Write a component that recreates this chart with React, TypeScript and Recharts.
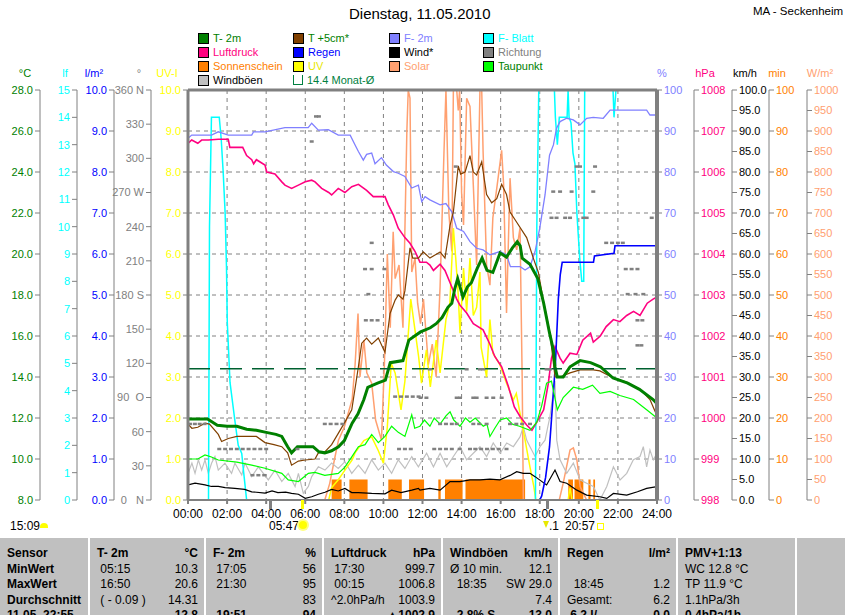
import React from "react";
import {
  ComposedChart,
  Line,
  Area,
  Scatter,
  XAxis,
  YAxis,
  CartesianGrid,
  ReferenceLine,
} from "recharts";

const FONT = '"Liberation Sans", Arial, sans-serif';

// ---- data (hour of day, value) ----
const T2M = [
  [0, 11.95], [0.5, 11.95], [1, 11.95], [1.5, 11.65], [2, 11.6], [2.5, 11.6], [3, 11.45], [3.5, 11.4],
  [4, 11.3], [4.5, 11.2], [4.8, 11.1], [5.1, 10.6], [5.3, 10.3], [5.6, 10.6], [6, 10.6], [6.4, 10.6],
  [6.7, 10.35], [7, 10.3], [7.35, 10.4], [7.7, 10.6], [8, 10.9], [8.4, 11.75], [8.7, 12.2], [9.0, 12.9],
  [9.2, 13.5], [9.7, 13.7], [10.1, 13.85], [10.35, 14.7], [11.0, 14.8], [11.3, 15.8], [11.9, 16.2],
  [12.4, 16.4], [12.7, 16.6], [13.0, 16.9], [13.3, 17.4], [13.5, 17.6], [13.65, 18.3], [13.8, 18.8],
  [14.07, 17.9], [14.3, 18.4], [14.5, 18.6], [14.8, 19.3], [15.05, 19.8], [15.3, 19.2], [15.6, 19.1],
  [15.97, 20.05], [16.3, 19.85], [16.6, 20.3], [16.85, 20.6], [17.0, 20.4], [17.1, 19.8], [17.5, 19.5],
  [17.9, 18.8], [18.2, 17.6], [18.5, 16.15], [18.7, 15.3], [18.78, 14.5], [18.9, 14.0], [19.2, 14.0],
  [19.55, 14.5], [20.06, 14.8], [20.6, 14.7], [21.1, 14.5], [21.75, 13.95], [22.5, 13.7], [23.1, 13.4],
  [23.8, 12.9], [24, 12.7],
];

const T5CM = [
  [0, 11.7], [0.2, 11.5], [0.5, 11.55], [0.87, 11.75], [1.1, 11.7], [1.55, 11.2], [1.72, 10.85],
  [2.06, 11.0], [2.5, 11.1], [3.5, 11.1], [3.94, 10.8], [4.4, 10.7], [4.8, 10.6], [5.1, 10.3], [5.3, 9.7],
  [5.65, 9.9], [6.0, 9.95], [6.5, 10.0], [6.67, 10.3], [7.0, 10.35], [7.35, 10.7], [7.69, 11.25],
  [8.03, 11.8], [8.38, 12.4], [8.72, 14.5], [8.89, 15.65], [9.14, 15.9], [9.4, 15.6], [9.74, 15.9],
  [10.08, 15.2], [10.34, 17.1], [10.6, 17.75], [10.76, 18.0], [11.0, 17.8], [11.1, 18.2], [11.36, 20.3],
  [11.5, 19.8], [11.79, 19.8], [12.04, 20.1], [12.38, 19.8], [12.9, 20.1], [13.15, 19.8], [13.41, 21.4],
  [13.58, 22.05], [13.83, 24.3], [13.95, 23.9], [14.18, 24.0], [14.43, 24.8], [14.6, 24.0], [14.77, 23.85],
  [15.03, 24.5], [15.28, 22.9], [15.54, 22.5], [15.8, 22.7], [16.05, 23.4], [16.3, 22.9], [16.48, 22.05],
  [16.82, 21.55], [17.33, 20.8], [17.67, 19.8], [17.93, 19.1], [18.18, 17.75], [18.52, 16.15],
  [18.78, 14.0], [19.04, 14.0], [19.55, 14.2], [20.06, 14.35], [20.74, 14.35], [21.08, 14.3],
  [21.77, 13.95], [22.45, 13.75], [23.13, 13.4], [23.64, 12.9], [23.98, 12.15],
];

const DEWPOINT = [
  [0, 10.0], [0.5, 10.0], [0.87, 10.2], [1.2, 10.1], [1.55, 9.95], [2.5, 9.85], [3.26, 9.7], [3.94, 9.55],
  [4.8, 9.3], [5.13, 8.98], [5.65, 8.9], [6.16, 9.3], [6.5, 9.35], [7.0, 9.2], [7.69, 9.3], [8.03, 9.6],
  [8.38, 10.1], [8.72, 10.6], [9.06, 10.7], [9.4, 11.2], [9.74, 10.8], [10.08, 11.1], [10.42, 11.6],
  [10.76, 11.3], [11.1, 11.1], [11.45, 12.15], [11.6, 11.5], [11.87, 11.6], [12.1, 11.9], [12.38, 11.6],
  [12.6, 12.0], [12.9, 11.7], [13.2, 12.1], [13.41, 12.3], [13.6, 11.9], [13.92, 11.6], [14.2, 12.0],
  [14.43, 11.8], [14.7, 12.0], [15.11, 11.6], [15.3, 11.7], [15.45, 11.1], [15.7, 11.5], [15.97, 11.9],
  [16.31, 12.0], [16.6, 11.7], [16.96, 11.6], [17.5, 11.4], [17.85, 11.8], [18.1, 12.6], [18.35, 13.7],
  [18.6, 13.8], [18.9, 12.4], [19.2, 13.0], [19.72, 13.5], [20.2, 13.4], [20.7, 13.6], [21.08, 13.2],
  [21.6, 13.3], [22.1, 13.1], [22.8, 12.9], [23.47, 12.4], [24, 12.0],
];

const HUMIDITY = [
  [0, 88.2], [0.19, 89], [1.2, 89], [1.55, 89.8], [2.06, 89], [3.26, 89], [3.35, 89.8], [3.94, 89.8],
  [4.96, 90.8], [6.15, 90.8], [6.33, 91.9], [6.67, 90.2], [7.18, 90.3], [7.69, 89], [8.3, 89],
  [8.55, 86.6], [8.72, 85], [8.97, 82.9], [9.14, 84.3], [9.4, 84.6], [9.57, 82], [9.9, 83.5],
  [10.15, 81.7], [10.51, 80.1], [10.76, 79.7], [11.1, 78.9], [11.45, 76.1], [11.79, 76.8], [11.96, 72.8],
  [12.13, 74], [12.38, 73.2], [12.9, 72], [13.2, 72.3], [13.5, 70.3], [13.75, 66.3], [14.1, 65.5],
  [14.43, 63.0], [14.77, 61.4], [15.1, 61.0], [15.45, 59.8], [15.96, 60.6], [16.3, 59.8], [16.5, 56.9],
  [17.0, 56.9], [17.25, 56.1], [17.5, 56.9], [17.76, 60.6], [18.0, 66.3], [18.27, 74.4], [18.5, 84.1],
  [18.7, 86.6], [18.86, 90.7], [19.04, 92.3], [19.38, 93.1], [19.72, 92.7], [20.06, 91.5], [20.4, 93.1],
  [20.74, 93.3], [21.25, 93.1], [21.6, 95.1], [23.47, 95.1], [23.64, 93.9], [24, 93.9],
];

const PRESSURE = [
  [0, 1006.7], [0.19, 1006.78], [0.5, 1006.7], [0.7, 1006.78], [1.04, 1006.78], [1.55, 1006.8],
  [2.06, 1006.8], [2.14, 1006.6], [2.8, 1006.6], [3.0, 1006.4], [3.26, 1006.3], [3.36, 1006.2],
  [3.5, 1006.3], [3.94, 1006.17], [4.03, 1006.0], [4.45, 1005.95], [4.8, 1005.76], [4.96, 1005.68],
  [5.3, 1005.6], [5.65, 1005.68], [6.0, 1005.76], [6.33, 1005.8], [6.5, 1005.76], [6.84, 1005.6],
  [7.2, 1005.5], [7.35, 1005.44], [7.69, 1005.6], [8.03, 1005.5], [8.38, 1005.64], [8.72, 1005.7],
  [9.14, 1005.55], [9.48, 1005.4], [10.08, 1005.4], [10.25, 1005.2], [10.51, 1004.95], [10.76, 1004.63],
  [11.1, 1004.4], [11.36, 1004.26], [11.62, 1004.06], [11.87, 1003.8], [12.2, 1003.8], [12.38, 1003.73],
  [12.56, 1003.6], [12.9, 1003.75], [13.15, 1003.6], [13.41, 1003.3], [13.58, 1003.1], [13.75, 1002.9],
  [13.92, 1002.75], [14.26, 1002.56], [14.6, 1002.3], [15.1, 1002.15], [15.45, 1001.8], [15.7, 1001.5],
  [16.05, 1001.25], [16.4, 1000.76], [16.7, 1000.27], [17.0, 1000.03], [17.33, 999.83], [17.6, 999.7],
  [17.85, 999.9], [18.2, 1000.2], [18.44, 1000.85], [18.6, 1001.46], [18.78, 1001.74], [19.04, 1001.46],
  [19.2, 1001.34], [19.55, 1001.58], [19.9, 1001.55], [20.2, 1001.9], [20.6, 1002.07], [20.74, 1001.85],
  [21.1, 1002.0], [21.4, 1002.23], [21.77, 1002.4], [22.1, 1002.35], [22.45, 1002.5], [22.8, 1002.6],
  [23.13, 1002.5], [23.5, 1002.8], [23.8, 1002.9], [24, 1002.95],
];

const RAIN = [
  [0, 0], [18.0, 0], [18.1, 0.1], [18.3, 0.55], [18.5, 1.3], [18.65, 2.3], [18.8, 3.3], [18.95, 4.9],
  [19.05, 5.5], [19.15, 5.8], [20.75, 5.8], [20.8, 5.95], [21.8, 6.02], [21.85, 6.2], [24, 6.2],
];

const LEAF_WETNESS = [
  [0, 0], [1.05, 0], [1.1, 10], [1.2, 14], [1.6, 14], [1.7, 13.2], [1.8, 12], [1.9, 10.5], [1.97, 8.5],
  [2.01, 6.5], [2.15, 4.3], [2.4, 2.9], [2.57, 2.0], [2.75, 1.7], [2.85, 1.0], [3.0, 0], [17.78, 0],
  [17.85, 10], [17.95, 15], [18.75, 15], [18.8, 14], [18.9, 13], [19.0, 14], [19.4, 14], [19.45, 15],
  [19.5, 14], [19.6, 13.8], [19.7, 12.7], [19.8, 12.3], [19.9, 10.5], [20.05, 8.8], [20.15, 8],
  [20.25, 8], [20.3, 15], [21.75, 15], [21.8, 14], [21.9, 15], [24, 15],
];

const SOLAR = [
  [0, 0], [7.0, 0], [7.25, 40], [7.5, 100], [7.7, 146], [8.0, 178], [8.25, 220], [8.4, 245], [8.55, 330],
  [8.7, 455], [8.8, 300], [9.0, 390], [9.15, 310], [9.4, 285], [9.6, 195], [9.9, 146], [10.05, 330],
  [10.2, 600], [10.35, 420], [10.5, 654], [10.6, 540], [10.8, 573], [11.0, 420], [11.2, 900],
  [11.27, 1000], [11.36, 980], [11.45, 556], [11.62, 590], [11.75, 480], [11.9, 430], [12.05, 490],
  [12.3, 330], [12.5, 380], [12.7, 300], [12.9, 520], [13.1, 850], [13.2, 1000], [13.35, 700],
  [13.5, 606], [13.58, 1000], [13.75, 1000], [13.83, 950], [13.9, 1000], [14.0, 750], [14.1, 671],
  [14.26, 980], [14.43, 960], [14.6, 768], [14.77, 573], [14.94, 1000], [15.03, 1000], [15.1, 851],
  [15.28, 573], [15.45, 524], [15.6, 688], [15.8, 760], [16.05, 853], [16.15, 770], [16.3, 456],
  [16.48, 785], [16.65, 640], [16.82, 610], [16.99, 663], [17.1, 300], [17.16, 0], [19.0, 0],
  [19.2, 41], [19.55, 122], [19.72, 127], [19.9, 98], [20.07, 32], [20.4, 0], [24, 0],
];

const UV_INDEX = [
  [0, 0], [7.2, 0], [7.35, 0.3], [7.7, 0.5], [8.03, 0.73], [8.4, 0.98], [8.55, 1.15], [9.0, 1.45],
  [9.4, 1.54], [9.74, 1.2], [10.0, 0.9], [10.2, 1.78], [10.4, 3.33], [10.6, 3.1], [10.9, 2.2], [11.1, 2.9],
  [11.4, 4.9], [11.6, 4.2], [11.8, 3.5], [11.95, 2.85], [12.2, 3.66], [12.4, 2.76], [12.7, 3.9],
  [12.9, 3.1], [13.2, 4.4], [13.4, 4.8], [13.58, 6.63], [13.7, 5.9], [13.83, 5.0], [13.92, 4.07],
  [14.1, 5.66], [14.26, 4.6], [14.43, 5.9], [14.6, 4.5], [14.77, 4.7], [14.94, 5.56], [15.0, 3.73],
  [15.28, 3.0], [15.45, 4.4], [15.6, 3.58], [15.96, 3.3], [16.3, 2.85], [16.65, 2.44], [16.8, 2.6],
  [16.99, 2.12], [17.25, 1.46], [17.5, 0.8], [17.7, 0.32], [17.8, 0], [19.45, 0], [19.55, 0.3],
  [19.65, 0], [24, 0],
];

const WIND = [
  [0, 3.7], [0.36, 4.1], [0.87, 3.7], [1.2, 3.3], [1.55, 3.3], [1.9, 3.0], [2.4, 2.85], [2.9, 2.6],
  [3.26, 2.0], [3.94, 1.7], [4.3, 2.2], [4.6, 1.8], [5.0, 1.9], [5.3, 1.6], [5.65, 1.4], [6.0, 0.4],
  [6.33, 0.8], [6.67, 1.4], [7.01, 1.9], [7.35, 2.6], [7.69, 2.2], [8.03, 2.8], [8.38, 1.8], [8.72, 1.8],
  [9.4, 1.6], [10.08, 1.5], [10.42, 2.4], [10.9, 1.8], [11.45, 2.4], [11.79, 2.85], [11.87, 2.4],
  [12.38, 2.85], [12.9, 2.4], [13.41, 4.5], [13.92, 4.5], [14.43, 4.9], [14.94, 4.9], [15.45, 5.1],
  [15.96, 4.9], [16.48, 6.0], [16.82, 6.9], [17.16, 6.5], [17.5, 6.5], [17.76, 5.7], [18.35, 3.66],
  [18.78, 7.3], [19.04, 4.5], [19.38, 4.1], [19.9, 2.4], [20.4, 1.2], [21.08, 0.8], [21.43, 0.4],
  [21.77, 1.6], [22.45, 1.2], [23.0, 2.0], [23.47, 2.85], [24, 3.25],
];

const GUSTS = [
  [0, 6.5], [0.2, 9.0], [0.36, 6.5], [0.53, 9.8], [0.7, 7.3], [0.87, 9.8], [1.04, 6.5], [1.21, 9.0],
  [1.38, 10.6], [1.55, 7.3], [1.89, 9.0], [2.23, 6.5], [2.4, 9.0], [2.75, 6.1], [2.92, 9.0], [3.26, 5.7],
  [3.6, 8.1], [4.11, 4.9], [4.45, 7.3], [4.8, 4.5], [5.13, 6.5], [5.48, 3.3], [5.65, 6.5], [5.9, 1.6],
  [6.16, 3.3], [6.33, 5.7], [6.67, 8.1], [7.01, 7.3], [7.35, 9.0], [7.69, 7.7], [8.03, 9.35], [8.38, 6.5],
  [8.72, 8.5], [9.06, 6.5], [9.4, 9.8], [9.74, 7.3], [10.08, 9.0], [10.42, 6.5], [10.76, 9.8], [11.1, 7.7],
  [11.45, 10.6], [11.79, 8.1], [12.0, 9.8], [12.21, 11.4], [12.56, 8.1], [12.9, 11.4], [13.24, 8.1],
  [13.58, 10.6], [13.92, 13.0], [14.26, 9.8], [14.6, 11.4], [14.94, 13.0], [15.28, 10.6], [15.62, 13.9],
  [15.97, 11.4], [16.31, 13.9], [16.65, 13.0], [16.99, 15.4], [17.16, 17.9], [17.33, 14.6], [17.5, 13.0],
  [17.76, 10.6], [18.01, 13.0], [18.27, 14.6], [18.52, 20.3], [18.69, 26.1], [18.78, 29.0], [18.87, 14.6],
  [19.04, 9.8], [19.38, 6.5], [19.72, 9.0], [20.06, 4.9], [20.4, 4.1], [20.74, 3.3], [21.08, 0],
  [21.43, 3.3], [21.77, 8.1], [22.11, 4.9], [22.45, 6.5], [22.79, 9.8], [23.13, 10.6], [23.3, 13.0],
  [23.47, 8.1], [23.64, 12.2], [23.81, 9.8], [24, 11.4],
];

// wind direction samples, degrees
const DIRECTION = [
  [0.1, 67], [0.35, 67], [0.6, 67], [0.85, 67],
  [1.6, 45], [1.9, 45], [2.2, 45], [2.5, 45], [2.8, 45], [3.1, 45], [3.4, 45], [3.7, 45], [4.0, 45],
  [3.3, 22], [3.6, 22], [3.9, 22], [5.6, 45],
  [6.33, 315], [6.55, 337], [6.7, 337],
  [7.0, 67], [7.3, 67], [7.6, 67], [7.9, 67],
  [9.1, 158], [9.4, 158], [9.7, 158], [9.23, 181], [9.06, 203], [9.4, 203], [10.05, 203], [9.4, 226],
  [10.6, 91], [10.9, 91], [11.2, 91], [11.5, 91], [11.8, 91], [10.8, 45], [11.1, 45], [11.4, 45],
  [11.9, 90], [12.2, 90], [12.38, 115], [12.6, 45], [12.9, 45], [13.2, 45], [13.5, 45], [13.9, 45],
  [12.9, 67], [13.2, 67], [13.5, 67], [13.75, 67], [13.7, 293], [13.75, 90], [13.92, 90],
  [14.26, 115], [14.43, 45], [14.7, 45], [15.0, 45], [15.3, 45], [15.6, 45], [15.9, 45], [16.3, 45],
  [14.6, 67], [14.9, 67], [15.28, 67], [14.6, 90], [14.77, 90], [14.94, 115], [15.11, 115],
  [15.28, 90], [15.62, 90], [16.05, 90], [16.48, 67], [16.8, 67], [17.1, 67], [17.5, 67],
  [18.35, 115], [18.52, 115], [18.6, 248], [18.86, 248], [18.69, 271], [19.04, 271],
  [19.3, 248], [19.55, 248], [19.63, 271], [19.89, 293], [20.06, 293], [20.23, 248], [20.4, 248],
  [20.74, 271], [20.83, 293], [21.4, 226], [21.7, 226], [22.0, 226], [22.25, 226],
  [22.4, 203], [22.7, 203], [23.0, 203], [22.5, 181], [22.9, 181], [23.3, 181],
  [23.0, 158], [23.25, 158], [23.0, 136], [23.2, 136], [23.73, 248],
];

// sunshine: 5-minute slots with full sun, as [from, to] hours
const SUN_INTERVALS = [
  [7.35, 7.86], [8.26, 9.19], [10.25, 10.94], [11.31, 12.08], [12.81, 12.93], [13.15, 14.05],
  [14.2, 17.25], [19.46, 19.7], [19.78, 20.23], [20.49, 20.6], [20.74, 20.83],
];
const SUN_MINUTES = 5;
const MONTH_AVG = 14.4;

const HOUR_TICKS = [0, 2, 4, 6, 8, 10, 12, 14, 16, 18, 20, 22, 24];

const toPoints = (pairs: number[][]) => pairs.map(([h, v]) => ({ h, v }));

const sunData = [
  { h: 0, v: 0 },
  ...SUN_INTERVALS.flatMap(([a, b]) => [
    { h: a, v: 0 },
    { h: a, v: SUN_MINUTES },
    { h: b, v: SUN_MINUTES },
    { h: b, v: 0 },
  ]),
  { h: 24, v: 0 },
];

const range = (from: number, to: number, step: number) => {
  const out: number[] = [];
  for (let v = from; v <= to + 1e-9; v += step) out.push(Math.round(v * 100) / 100);
  return out;
};

const GRAY = "#808080";

const tickStyle = (fill: string) => ({ fill, fontSize: 11, fontFamily: FONT });

const DIR_LABELS: Record<number, string> = {
  0: "0\u00a0\u00a0\u00a0N",
  90: "90\u00a0\u00a0O",
  180: "180\u00a0S",
  270: "270\u00a0W",
  360: "360\u00a0N",
};

const LEGEND = [
  { col: 0, row: 0, label: "T- 2m", box: "#008000", color: "#008000" },
  { col: 0, row: 1, label: "Luftdruck", box: "#ff0080", color: "#ff0080" },
  { col: 0, row: 2, label: "Sonnenschein", box: "#ff8000", color: "#ff8000" },
  { col: 0, row: 3, label: "Windböen", box: "#c0c0c0", color: "#000000" },
  { col: 1, row: 0, label: "T +5cm*", box: "#804000", color: "#008000" },
  { col: 1, row: 1, label: "Regen", box: "#0000ff", color: "#0000ff" },
  { col: 1, row: 2, label: "UV", box: "#ffff00", color: "#e8e800" },
  { col: 1, row: 3, label: "14.4 Monat-Ø", box: "none", color: "#008040" },
  { col: 2, row: 0, label: "F- 2m", box: "#8080ff", color: "#8080ff" },
  { col: 2, row: 1, label: "Wind*", box: "#000000", color: "#000000" },
  { col: 2, row: 2, label: "Solar", box: "#ffa070", color: "#ffa070" },
  { col: 3, row: 0, label: "F- Blatt", box: "#00ffff", color: "#00ffff" },
  { col: 3, row: 1, label: "Richtung", box: "#808080", color: "#808080" },
  { col: 3, row: 2, label: "Taupunkt", box: "#00ff00", color: "#008000" },
];
const LEGEND_X = [198, 293, 389, 483];

const UNITS = [
  { x: 25, text: "°C", color: "#008000" },
  { x: 65, text: "lf", color: "#00ffff" },
  { x: 94, text: "l/m²", color: "#0000ff" },
  { x: 139, text: "°", color: "#808080" },
  { x: 167, text: "UV-I", color: "#ffff00" },
  { x: 662, text: "%", color: "#8080ff" },
  { x: 705, text: "hPa", color: "#ff0080" },
  { x: 745, text: "km/h", color: "#000000" },
  { x: 777, text: "min", color: "#ff8000" },
  { x: 820, text: "W/m²", color: "#ffa070" },
];

// summary table: [left text, right text] per cell, first row is header
const TABLE = [
  { x: 0, w: 88, rows: [["Sensor", ""], ["MinWert", ""], ["MaxWert", ""], ["Durchschnitt", ""], ["11.05. 22:55", ""]], boldLeft: true },
  { x: 88, w: 116, rows: [["T- 2m", "°C"], [" 05:15", "10.3"], [" 16:50", "20.6"], [" ( - 0.09 )", "14.31"], ["", "12.8"]] },
  { x: 204, w: 118, rows: [["F- 2m", "%"], [" 17:05", "56"], [" 21:30", "95"], ["", "83"], [" 19:51 ...", "94"]] },
  { x: 322, w: 119, rows: [["Luftdruck", "hPa"], [" 17:30", "999.7"], [" 00:15", "1006.8"], ["^2.0hPa/h", "1003.9"], ["  ...", "▲1002.9"]] },
  { x: 441, w: 117, rows: [["Windböen", "km/h"], ["Ø 10 min.", "12.1"], ["  18:35", "SW 29.0"], ["", "7.4"], ["  2.8% S", "13.0"]] },
  { x: 558, w: 118, rows: [["Regen", "l/m²"], ["", ""], ["  18:45", "1.2"], ["Gesamt:", "6.2"], [" 6.2 l/...", "0.0"]] },
  { x: 676, w: 119, rows: [["PMV+1:13", ""], ["WC 12.8 °C", ""], ["TP 11.9 °C", ""], ["1.1hPa/3h", ""], ["0.4hPa/1h", ""]] },
  { x: 795, w: 50, rows: [["", ""]] },
];

function LegendBlock() {
  return (
    <>
      {LEGEND.map((it) => (
        <div
          key={it.label}
          style={{
            position: "absolute",
            left: LEGEND_X[it.col],
            top: 31 + it.row * 14,
            height: 14,
            display: "flex",
            alignItems: "center",
            fontSize: 11,
            color: it.color,
            whiteSpace: "nowrap",
          }}
        >
          {it.box === "none" ? (
            <span
              style={{
                width: 8,
                height: 9,
                borderLeft: "1px solid #008040",
                borderRight: "1px solid #008040",
                borderBottom: "1px solid #008040",
                marginRight: 4,
                boxSizing: "content-box",
              }}
            />
          ) : (
            <span
              style={{
                width: 9,
                height: 9,
                background: it.box,
                border: "1px solid #000",
                marginRight: 4,
              }}
            />
          )}
          {it.label}
        </div>
      ))}
    </>
  );
}

function SummaryTable() {
  return (
    <div
      style={{
        position: "absolute",
        left: 0,
        top: 538,
        width: 845,
        height: 77,
        background: "#c0c0c0",
        overflow: "hidden",
        fontSize: 12,
      }}
    >
      {TABLE.map((col, ci) => (
        <div
          key={ci}
          style={{
            position: "absolute",
            left: col.x,
            top: 0,
            width: col.w,
            height: 77,
            borderLeft: ci === 0 ? "none" : "2px solid #ffffff",
            boxSizing: "border-box",
            padding: "8px 6px 0 7px",
          }}
        >
          {col.rows.map((r, ri) => (
            <div
              key={ri}
              style={{
                display: "flex",
                justifyContent: "space-between",
                height: 15.5,
                lineHeight: "15.5px",
                whiteSpace: "pre",
                fontWeight: ri === 0 || col.boldLeft || ri === 4 ? 700 : 400,
              }}
            >
              <span>{r[0]}</span>
              <span>{r[1]}</span>
            </div>
          ))}
        </div>
      ))}
    </div>
  );
}

const small = { position: "absolute" as const, top: 521, fontSize: 12, lineHeight: "11px" };

export default function App() {
  return (
    <div
      style={{
        position: "absolute",
        left: 0,
        top: 0,
        width: 845,
        height: 615,
        background: "#ffffff",
        fontFamily: FONT,
        overflow: "hidden",
      }}
    >
      <div style={{ position: "absolute", left: 349, top: 5, fontSize: 15 }}>Dienstag, 11.05.2010</div>
      <div style={{ position: "absolute", left: 753, top: 5, fontSize: 11.5 }}>MA - Seckenheim</div>

      <LegendBlock />

      {UNITS.map((u) => (
        <div
          key={u.text}
          style={{
            position: "absolute",
            left: u.x - 20,
            width: 40,
            top: 67,
            textAlign: "center",
            fontSize: 11,
            color: u.color,
          }}
        >
          {u.text}
        </div>
      ))}

      <div style={{ position: "absolute", left: 0, top: 0 }}>
        <ComposedChart
          width={845}
          height={530}
          margin={{ top: 90, right: 0, bottom: 0, left: 3 }}
          style={{ fontFamily: FONT }}
        >
          <CartesianGrid
            yAxisId="a_uv"
            stroke={GRAY}
            strokeDasharray="4 4"
            horizontal
            vertical
          />
          <XAxis
            dataKey="h"
            type="number"
            domain={[0, 24]}
            ticks={HOUR_TICKS}
            interval={0}
            allowDataOverflow
            height={30}
            stroke={GRAY}
            strokeWidth={2}
            tickSize={4}
            tickMargin={5}
            tick={{ fill: "#000", fontSize: 12, fontFamily: FONT }}
            tickFormatter={(h: number) => `${String(h).padStart(2, "0")}:00`}
          />

          {/* left axes, innermost first (ids sort in that order) */}
          <YAxis yAxisId="a_uv" orientation="left" width={37} domain={[0, 10]} ticks={range(0, 10, 1)} interval={0}
            allowDataOverflow stroke={GRAY} tickSize={5} tick={tickStyle("#ffff00")}
            tickFormatter={(v: number) => v.toFixed(1)} />
          <YAxis yAxisId="b_deg" orientation="left" width={37} domain={[0, 360]} ticks={range(0, 360, 30)} interval={0}
            allowDataOverflow stroke={GRAY} tickSize={5} tick={tickStyle("#808080")}
            tickFormatter={(v: number) => DIR_LABELS[v] ?? String(v)} />
          <YAxis yAxisId="c_rain" orientation="left" width={37} domain={[0, 10]} ticks={range(0, 10, 1)} interval={0}
            allowDataOverflow stroke={GRAY} tickSize={5} tick={tickStyle("#0000ff")}
            tickFormatter={(v: number) => v.toFixed(1)} />
          <YAxis yAxisId="d_lf" orientation="left" width={37} domain={[0, 15]} ticks={range(0, 15, 1)} interval={0}
            allowDataOverflow stroke={GRAY} tickSize={5} tick={tickStyle("#00ffff")} />
          <YAxis yAxisId="e_temp" orientation="left" width={37} domain={[8, 28]} ticks={range(8, 28, 2)} interval={0}
            allowDataOverflow stroke={GRAY} tickSize={5} tick={tickStyle("#008000")}
            tickFormatter={(v: number) => v.toFixed(1)} />

          {/* right axes, innermost first */}
          <YAxis yAxisId="a_hum" orientation="right" width={37} domain={[0, 100]} ticks={range(0, 100, 10)} interval={0}
            allowDataOverflow stroke={GRAY} tickSize={5} tick={tickStyle("#8080ff")} />
          <YAxis yAxisId="b_hpa" orientation="right" width={38} domain={[998, 1008]} ticks={range(998, 1008, 1)} interval={0}
            allowDataOverflow stroke={GRAY} tickSize={5} tick={tickStyle("#ff0080")} />
          <YAxis yAxisId="c_kmh" orientation="right" width={37} domain={[0, 100]} ticks={range(0, 100, 5)} interval={0}
            allowDataOverflow stroke={GRAY} tickSize={5} tick={tickStyle("#000000")}
            tickFormatter={(v: number) => v.toFixed(1)} />
          <YAxis yAxisId="d_min" orientation="right" width={38} domain={[0, 100]} ticks={range(0, 100, 10)} interval={0}
            allowDataOverflow stroke={GRAY} tickSize={5} tick={tickStyle("#ff8000")} />
          <YAxis yAxisId="e_wm2" orientation="right" width={38} domain={[0, 1000]} ticks={range(0, 1000, 50)} interval={0}
            allowDataOverflow stroke={GRAY} tickSize={5} tick={tickStyle("#ffa070")} />

          <Area yAxisId="d_min" data={sunData} dataKey="v" type="linear" stroke="none" fill="#ff8000"
            fillOpacity={1} isAnimationActive={false} />
          <Line yAxisId="e_wm2" data={toPoints(SOLAR)} dataKey="v" stroke="#ffa070" strokeWidth={1.5} dot={false}
            isAnimationActive={false} />
          <Line yAxisId="c_kmh" data={toPoints(GUSTS)} dataKey="v" stroke="#c0c0c0" strokeWidth={1.2} dot={false}
            isAnimationActive={false} />
          <Scatter yAxisId="b_deg" data={toPoints(DIRECTION)} dataKey="v" isAnimationActive={false}
            shape={(p: any) => <rect x={p.cx - 2} y={p.cy - 1} width={4} height={2.5} fill="#808080" />} />
          <Line yAxisId="a_uv" data={toPoints(UV_INDEX)} dataKey="v" stroke="#ffff00" strokeWidth={1.5} dot={false}
            isAnimationActive={false} />
          <Line yAxisId="d_lf" data={toPoints(LEAF_WETNESS)} dataKey="v" stroke="#00ffff" strokeWidth={1.5} dot={false}
            isAnimationActive={false} />
          <Line yAxisId="c_kmh" data={toPoints(WIND)} dataKey="v" stroke="#000000" strokeWidth={1.2} dot={false}
            isAnimationActive={false} />
          <Line yAxisId="a_hum" data={toPoints(HUMIDITY)} dataKey="v" stroke="#8080ff" strokeWidth={1.3} dot={false}
            isAnimationActive={false} />
          <Line yAxisId="b_hpa" data={toPoints(PRESSURE)} dataKey="v" stroke="#ff0080" strokeWidth={1.6} dot={false}
            isAnimationActive={false} />
          <Line yAxisId="c_rain" data={toPoints(RAIN)} dataKey="v" stroke="#0000ff" strokeWidth={1.6} dot={false}
            isAnimationActive={false} />
          <Line yAxisId="e_temp" data={toPoints(T5CM)} dataKey="v" stroke="#804000" strokeWidth={1.2} dot={false}
            isAnimationActive={false} />
          <Line yAxisId="e_temp" data={toPoints(DEWPOINT)} dataKey="v" stroke="#00ff00" strokeWidth={1.2} dot={false}
            isAnimationActive={false} />
          <Line yAxisId="e_temp" data={toPoints(T2M)} dataKey="v" stroke="#008000" strokeWidth={3} dot={false}
            isAnimationActive={false} />
          <ReferenceLine yAxisId="e_temp" y={MONTH_AVG} stroke="#006030" strokeWidth={1.5} strokeDasharray="22 10" />

          {/* frame */}
          <ReferenceLine yAxisId="a_uv" y={10} stroke={GRAY} strokeWidth={3} />
          <ReferenceLine yAxisId="a_uv" x={0} stroke={GRAY} strokeWidth={3} />
          <ReferenceLine yAxisId="a_uv" x={24} stroke={GRAY} strokeWidth={4} />
        </ComposedChart>
      </div>

      {/* markers below the time axis */}
      <div style={{ position: "absolute", left: 269, top: 500, width: 3, height: 9, background: "#808080" }} />
      <div style={{ position: "absolute", left: 301, top: 500, width: 3, height: 9, background: "#ffff00" }} />
      <div style={{ position: "absolute", left: 546, top: 500, width: 3, height: 9, background: "#808080" }} />
      <div style={{ position: "absolute", left: 596, top: 500, width: 3, height: 9, background: "#ffff00" }} />

      <div style={{ ...small, left: 10 }}>15:09</div>
      <div style={{ position: "absolute", left: 40, top: 523, width: 8, height: 5, background: "#ffff00", borderRadius: "5px 5px 0 0" }} />
      <div style={{ ...small, left: 269 }}>05:47</div>
      <div style={{ position: "absolute", left: 299, top: 521, width: 8, height: 8, background: "#ffff00", borderRadius: 4, boxShadow: "0 0 0 2px #ffff80" }} />
      <div style={{ position: "absolute", left: 543, top: 521, width: 0, height: 0, borderLeft: "3px solid transparent", borderRight: "3px solid transparent", borderTop: "7px solid #e8e800" }} />
      <div style={{ ...small, left: 549 }}>.1</div>
      <div style={{ ...small, left: 565 }}>20:57</div>
      <div style={{ position: "absolute", left: 597, top: 523, width: 5, height: 5, border: "1px solid #ffff00" }} />

      <SummaryTable />
    </div>
  );
}
